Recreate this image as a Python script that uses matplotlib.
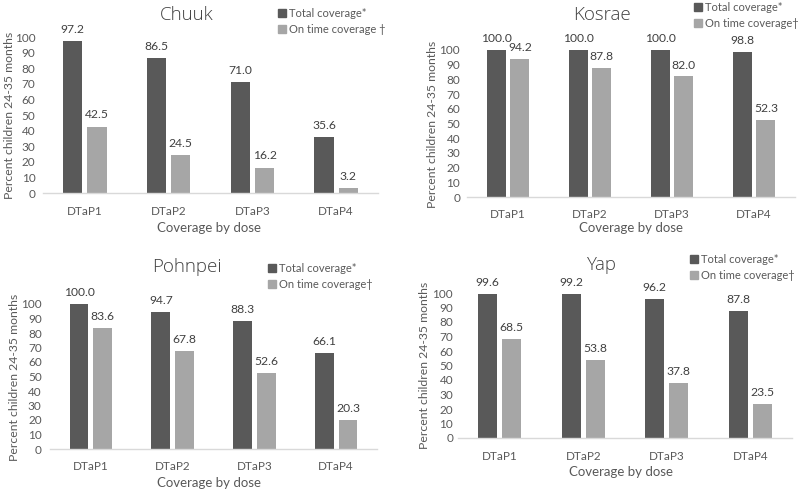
import matplotlib
matplotlib.use("Agg")
import matplotlib.pyplot as plt
import numpy as np
from matplotlib.patches import Patch
from matplotlib import font_manager as fm

plt.rcParams['font.family'] = ['Lato', 'DejaVu Sans']

doses = ["DTaP1", "DTaP2", "DTaP3", "DTaP4"]
states = ["Chuuk", "Kosrae", "Pohnpei", "Yap"]
chuuk_total = [97.2, 86.5, 71.0, 35.6]
chuuk_ontime = [42.5, 24.5, 16.2, 3.2]
kosrae_total = [100.0, 100.0, 100.0, 98.8]
kosrae_ontime = [94.2, 87.8, 82.0, 52.3]
pohnpei_total = [100.0, 94.7, 88.3, 66.1]
pohnpei_ontime = [83.6, 67.8, 52.6, 20.3]
yap_total = [99.6, 99.2, 96.2, 87.8]
yap_ontime = [68.5, 53.8, 37.8, 23.5]
legend_total = ["Total coverage*"] * 4
legend_ontime = ["On time coverage \u2020", "On time coverage\u2020", "On time coverage\u2020", "On time coverage\u2020"]
yticks = list(range(0, 101, 10))
ylabel = "Percent children 24-35 months"
xlabel = "Coverage by dose"

data = [(chuuk_total, chuuk_ontime), (kosrae_total, kosrae_ontime),
        (pohnpei_total, pohnpei_ontime), (yap_total, yap_ontime)]

DARK = "#595959"
LIGHT = "#a6a6a6"
TXT = "#595959"

# pick a light-weight, normal-width face for the titles if one is installed
TITLE_SIZE = 13.5
title_fp = None
for fam in ['Open Sans', 'Roboto', 'Noto Sans', 'Lato']:
    for f in fm.fontManager.ttflist:
        fn = f.fname.lower()
        if f.name == fam and f.weight in (300, 'light') and f.style == 'normal' \
                and f.stretch in ('normal', 500) and 'condensed' not in fn \
                and 'narrow' not in fn and 'semi' not in fn:
            title_fp = fm.FontProperties(fname=f.fname, size=TITLE_SIZE)
            break
    if title_fp is not None:
        break
if title_fp is None:
    title_fp = fm.FontProperties(family=['Lato', 'DejaVu Sans'], size=TITLE_SIZE)

W, H = 800, 493
fig = plt.figure(figsize=(8, 4.93), dpi=100)

# axes boxes in pixels: left, right, top(y of 100), bottom(y of 0)
boxes = [
    (43, 378, 37, 193),
    (467, 795, 50, 197),
    (50, 377, 304, 449),
    (458, 792, 293, 438),
]
tick_pads = [5.5, 5, 6, 3.5]
titles_pos = [(187, 15), (602, 15), (187, 267), (602, 265)]
legend_pos = [(278, 8), (694, 2), (268, 263), (690, 254)]
ylabel_pos = [(10, 115), (432, 124), (15, 377), (425, 365)]
xlabel_pos = [(209, 228), (631, 228), (209, 483), (621, 472)]

w = 0.23
off = 0.145
x = np.arange(len(doses))

for i, (l, r, t, b) in enumerate(boxes):
    ax = fig.add_axes([l / W, 1 - b / H, (r - l) / W, (b - t) / H])
    tot, ont = data[i]
    ax.bar(x - off, tot, width=w, color=DARK)
    ax.bar(x + off, ont, width=w, color=LIGHT)
    for xi, v in zip(x, tot):
        ax.text(xi - off, v + 4, f"{v:.1f}", ha='center', va='bottom', fontsize=8.7, color="#404040")
    for xi, v in zip(x, ont):
        ax.text(xi + off, v + 4, f"{v:.1f}", ha='center', va='bottom', fontsize=8.7, color="#404040")
    ax.set_xlim(-0.5, 3.5)
    ax.set_ylim(0, 100)
    ax.set_yticks(yticks)
    ax.set_xticks(x)
    ax.set_xticklabels(doses)
    ax.tick_params(axis='both', length=0, labelsize=8.5, labelcolor=TXT)
    ax.tick_params(axis='x', pad=9)
    ax.tick_params(axis='y', pad=tick_pads[i])
    for s in ['top', 'right', 'left']:
        ax.spines[s].set_visible(False)
    ax.spines['bottom'].set_color("#d9d9d9")
    ax.spines['bottom'].set_linewidth(1.0)
    yx, yy = ylabel_pos[i]
    fig.text(yx / W, 1 - yy / H, ylabel, rotation=90, ha='center', va='center', fontsize=8.8, color=TXT)
    xx, xy = xlabel_pos[i]
    fig.text(xx / W, 1 - xy / H, xlabel, ha='center', va='center', fontsize=9.5, color=TXT)
    tx, ty = titles_pos[i]
    fig.text(tx / W, 1 - ty / H, states[i], ha='center', va='center',
             fontproperties=title_fp, color="#404040")
    lx, ly = legend_pos[i]
    handles = [Patch(color=DARK), Patch(color=LIGHT)]
    fig.legend(handles, [legend_total[i], legend_ontime[i]], loc='upper left',
               bbox_to_anchor=(lx / W, 1 - ly / H), frameon=False,
               handlelength=0.7, handleheight=0.7, handletextpad=0.3,
               labelspacing=0.45, fontsize=8, labelcolor=TXT, borderpad=0, borderaxespad=0)

fig.savefig("out.png", dpi=100)
